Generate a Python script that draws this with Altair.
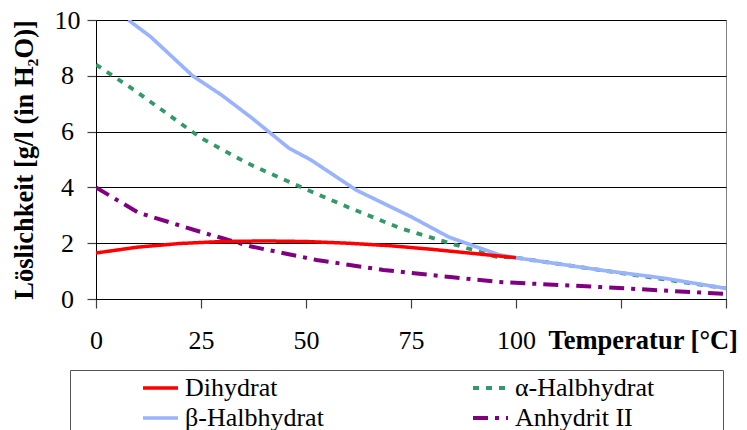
import altair as alt
import pandas as pd

# Solubility of calcium sulfate phases in water vs. temperature
# (legend fills column by column: Dihydrat / β-Halbhydrat | α-Halbhydrat / Anhydrit II)
series_names = ["Dihydrat", "β-Halbhydrat", "α-Halbhydrat", "Anhydrit II"]
series_colors = ["#FF0000", "#99B3FF", "#339966", "#800080"]
series_dash = [[1, 0], [1, 0], [6, 7], [15, 7, 4, 7]]
series_width = [3.5, 4.0, 3.0, 2.2]

dihydrat_t = [0, 10, 20, 30, 40, 50, 60, 70, 80, 90, 100]
dihydrat_c = [1.65, 1.86, 1.99, 2.06, 2.08, 2.06, 2.00, 1.91, 1.78, 1.63, 1.48]

alpha_t = [0, 9, 25, 35.5, 38, 49.4, 60.5, 72.4, 84.3, 95.4, 100, 120, 150]
alpha_c = [8.4, 7.5, 5.77, 4.91, 4.73, 3.97, 3.26, 2.54, 2.0, 1.51, 1.48, 1.04, 0.38]

beta_t = [7.7, 13, 18, 23, 30, 37, 46, 51, 62, 75, 84, 96, 100, 110, 120, 135, 150]
beta_c = [10, 9.4, 8.7, 8.0, 7.3, 6.5, 5.4, 5.0, 3.9, 2.95, 2.22, 1.58, 1.48, 1.26, 1.04, 0.75, 0.38]

anhydrit_t = [0, 10, 25, 37, 52.5, 68.4, 84.3, 96, 120, 150]
anhydrit_c = [4.0, 3.1, 2.4, 1.88, 1.40, 1.04, 0.79, 0.61, 0.43, 0.18]

x_ticks = [0, 25, 50, 75, 100, 125, 150]
y_ticks = [0, 2, 4, 6, 8, 10]

# rows in drawing order (bottom to top)
rows = []
for name, ts, cs in [
    ("Anhydrit II", anhydrit_t, anhydrit_c),
    ("α-Halbhydrat", alpha_t, alpha_c),
    ("β-Halbhydrat", beta_t, beta_c),
    ("Dihydrat", dihydrat_t, dihydrat_c),
]:
    for t, c in zip(ts, cs):
        rows.append({"serie": name, "t": t, "c": c})
df = pd.DataFrame(rows)

FONT = "Liberation Serif"

# blank braille cells after the right-hand column widen the legend frame
BLANK = " " + "\u2800" * 3
right_col = "indexof(['α-Halbhydrat', 'Anhydrit II'], datum.value) >= 0"

legend = alt.Legend(
    title=None,
    orient="none",
    legendX=-26,
    legendY=350,
    columns=2,
    columnPadding=81,
    rowPadding=4,
    padding=5,
    clipHeight=26,
    symbolType="stroke",
    symbolSize=1225,
    symbolOffset=66,
    labelOffset=5,
    labelLimit=500,
    labelExpr=f"{right_col} ? datum.label + '{BLANK}' : datum.label",
    labelFont=FONT,
    labelFontSize=26,
    labelColor="black",
    strokeColor="#555555",
    fillColor="white",
)

chart = (
    alt.Chart(df)
    .mark_line(clip=True, strokeCap="butt", strokeJoin="round")
    .encode(
        x=alt.X(
            "t:Q",
            scale=alt.Scale(domain=[0, 150], nice=False),
            axis=alt.Axis(
                values=x_ticks,
                labelExpr="datum.value <= 100 ? datum.label : ''",
                title="Temperatur [°C]",
                titleX=452,
                titleY=49,
                titleAlign="left",
                titleBaseline="alphabetic",
                labelBaseline="alphabetic",
                labelPadding=40,
                labelFlush=False,
                labelOverlap=False,
                grid=False,
            ),
        ),
        y=alt.Y(
            "c:Q",
            scale=alt.Scale(domain=[0, 10], nice=False),
            axis=alt.Axis(
                values=y_ticks,
                title="Löslichkeit [g/l (in H₂O)]",
                titleX=-72,
                titleY=139.5,
                titleAngle=270,
                titleAlign="center",
                titleBaseline="middle",
                labelAlign="center",
                labelBaseline="middle",
                labelPadding=20,
                labelFlush=False,
                grid=True,
                gridColor="black",
                gridWidth=1,
            ),
        ),
        color=alt.Color(
            "serie:N",
            scale=alt.Scale(domain=series_names, range=series_colors),
            legend=legend,
        ),
        strokeDash=alt.StrokeDash(
            "serie:N",
            scale=alt.Scale(domain=series_names, range=series_dash),
            legend=legend,
        ),
        strokeWidth=alt.StrokeWidth(
            "serie:N",
            scale=alt.Scale(domain=series_names, range=series_width),
            legend=legend,
        ),
    )
    .properties(
        width=630,
        height=279,
        padding={"left": 96, "top": 20, "right": 21, "bottom": 131},
        autosize=alt.AutoSizeParams(type="none"),
        background="white",
    )
    .configure_view(stroke="#808080", strokeWidth=1)
    .configure_axis(
        domainColor="black",
        domainWidth=1,
        ticks=True,
        tickSize=9,
        tickColor="#404040",
        tickWidth=1.2,
        labelFont=FONT,
        labelFontSize=26,
        labelColor="black",
        titleFont=FONT,
        titleFontSize=26.5,
        titleFontWeight="bold",
        titleColor="black",
    )
)

chart.save("out.html", embed_options={"renderer": "svg", "actions": False})
